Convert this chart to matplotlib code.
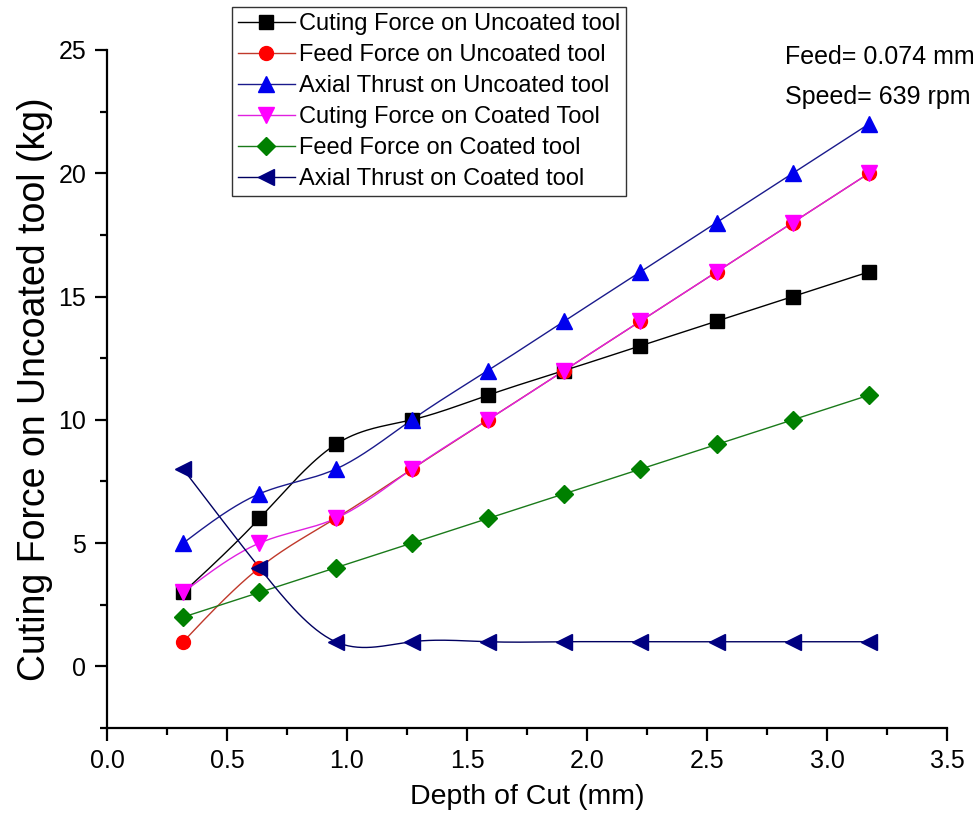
import matplotlib
matplotlib.use('Agg')
import matplotlib.pyplot as plt
import numpy as np
from matplotlib.ticker import MultipleLocator

plt.rcParams['font.family'] = ['Liberation Sans', 'DejaVu Sans']

# depth of cut (mm) = 1/8 inch steps
depth = [0.3175, 0.635, 0.9525, 1.27, 1.5875, 1.905, 2.2225, 2.54, 2.8575, 3.175]

cut_uncoated = [3, 6, 9, 10, 11, 12, 13, 14, 15, 16]
feed_uncoated = [1, 4, 6, 8, 10, 12, 14, 16, 18, 20]
axial_uncoated = [5, 7, 8, 10, 12, 14, 16, 18, 20, 22]
cut_coated = [3, 5, 6, 8, 10, 12, 14, 16, 18, 20]
feed_coated = [2, 3, 4, 5, 6, 7, 8, 9, 10, 11]
axial_coated = [8, 4, 1, 1, 1, 1, 1, 1, 1, 1]

labels = ['Cuting Force on Uncoated tool', 'Feed Force on Uncoated tool',
          'Axial Thrust on Uncoated tool', 'Cuting Force on Coated Tool',
          'Feed Force on Coated tool', 'Axial Thrust on Coated tool']


def spline_curve(x, y, n=300):
    # natural cubic spline, used only to draw the connecting line
    x = np.asarray(x, float)
    y = np.asarray(y, float)
    k = len(x)
    h = np.diff(x)
    A = np.zeros((k, k))
    b = np.zeros(k)
    A[0, 0] = A[-1, -1] = 1
    for i in range(1, k - 1):
        A[i, i - 1] = h[i - 1]
        A[i, i] = 2 * (h[i - 1] + h[i])
        A[i, i + 1] = h[i]
        b[i] = 6 * ((y[i + 1] - y[i]) / h[i] - (y[i] - y[i - 1]) / h[i - 1])
    M = np.linalg.solve(A, b)
    xs = np.linspace(x[0], x[-1], n)
    idx = np.clip(np.searchsorted(x, xs) - 1, 0, k - 2)
    x0, x1 = x[idx], x[idx + 1]
    hh = x1 - x0
    t0 = x1 - xs
    t1 = xs - x0
    ys = (M[idx] * t0 ** 3 / (6 * hh) + M[idx + 1] * t1 ** 3 / (6 * hh)
          + (y[idx] / hh - M[idx] * hh / 6) * t0
          + (y[idx + 1] / hh - M[idx + 1] * hh / 6) * t1)
    return xs, ys


series = [cut_uncoated, feed_uncoated, axial_uncoated, cut_coated, feed_coated, axial_coated]
line_colors = ['black', '#c0392b', '#1a1a8c', '#e020e0', '#1a7a1a', '#000060']
marker_colors = ['black', 'red', '#0000ee', '#ff00ff', '#008000', '#000080']
markers = ['s', 'o', '^', 'v', 'D', '<']
msizes = [10, 10, 11, 11, 9, 11]

fig = plt.figure(figsize=(9.79, 8.33), dpi=100)
ax = fig.add_axes([0.1093, 0.126, 0.858, 0.814])

handles = []
for vals, lc, mc, mk, ms, lab in zip(series, line_colors, marker_colors, markers, msizes, labels):
    xs, ys = spline_curve(depth, vals)
    ax.plot(xs, ys, color=lc, linewidth=1.0, zorder=2)
    ax.plot(depth, vals, linestyle='none', marker=mk, markersize=ms,
            markerfacecolor=mc, markeredgecolor=mc, zorder=3)
    h, = ax.plot([], [], color=lc, linewidth=1.0, marker=mk, markersize=ms,
                 markerfacecolor=mc, markeredgecolor=mc, label=lab)
    handles.append(h)

ax.set_xlim(0, 3.5)
ax.set_ylim(-2.5, 25)
ax.xaxis.set_minor_locator(MultipleLocator(0.25))
ax.yaxis.set_minor_locator(MultipleLocator(2.5))
ax.set_xticks(np.arange(0, 3.51, 0.5))
ax.set_xticklabels(['0.0', '0.5', '1.0', '1.5', '2.0', '2.5', '3.0', '3.5'])
ax.set_yticks([0, 5, 10, 15, 20, 25])

ax.spines['top'].set_visible(False)
ax.spines['right'].set_visible(False)
ax.spines['left'].set_linewidth(1.6)
ax.spines['bottom'].set_linewidth(1.6)
ax.tick_params(which='major', direction='out', length=9, width=1.6, labelsize=18, pad=6)
ax.tick_params(which='minor', direction='out', length=5, width=1.6)

ax.set_xlabel('Depth of Cut (mm)', fontsize=20.5, labelpad=8)
ax.set_ylabel('Cuting Force on Uncoated tool (kg)', fontsize=27, labelpad=4)

leg = fig.legend(handles=handles, loc='upper left', bbox_to_anchor=(0.237, 0.991),
                 fontsize=17, frameon=True, fancybox=False, edgecolor='black',
                 handlelength=2.4, handletextpad=0.2, labelspacing=0.38,
                 borderpad=0.25, borderaxespad=0)
leg.get_frame().set_linewidth(1.0)

fig.text(0.802, 0.932, 'Feed= 0.074 mm', fontsize=18, va='center')
fig.text(0.802, 0.884, 'Speed= 639 rpm', fontsize=18, va='center')

fig.savefig('out.png', dpi=100)
